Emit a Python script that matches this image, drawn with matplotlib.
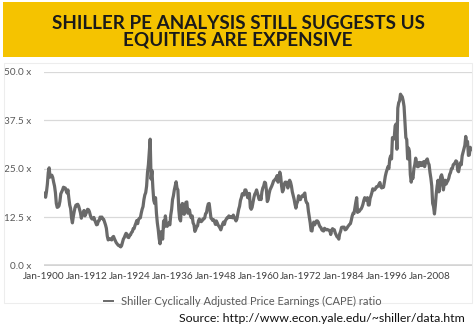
import matplotlib
matplotlib.use("Agg")
import matplotlib.pyplot as plt
from matplotlib.patches import Rectangle
import numpy as np

plt.rcParams['font.family'] = ['Lato', 'DejaVu Sans']

# Shiller CAPE, quarterly (Jan, Apr, Jul, Oct)
cape_1900s = [18.7, 18.5, 17.6, 19.0, 21.0, 24.0, 25.2, 22.8, 23.0, 23.3, 22.7, 21.5,
              20.5, 18.8, 16.0, 15.0, 15.1, 15.4, 16.5, 18.5, 19.0, 19.5, 20.2, 20.0,
              20.0, 19.3, 18.7, 19.5, 17.4, 15.6, 14.7, 12.3, 11.0, 12.6, 13.9, 15.0,
              15.6, 15.4, 15.8, 15.3]
cape_1910s = [14.5, 13.6, 12.2, 13.2, 13.6, 14.2, 12.8, 13.3, 13.8, 14.5, 14.4, 13.9,
              13.0, 12.3, 12.0, 12.0, 12.4, 11.7, 11.1, 10.5, 10.6, 11.5, 11.6, 12.5,
              12.3, 12.5, 12.0, 11.9, 11.2, 10.5, 9.6, 7.6, 6.6, 6.8, 6.9, 6.7,
              6.6, 7.3, 7.5, 6.9]
cape_1920s = [6.4, 5.9, 5.6, 5.3, 5.1, 5.2, 4.8, 5.1, 5.9, 6.8, 7.2, 7.8,
              8.3, 8.1, 7.3, 7.2, 7.8, 7.9, 8.5, 8.7, 9.5, 9.5, 10.3, 10.9,
              11.6, 10.8, 11.9, 12.2, 12.3, 13.5, 14.5, 15.2, 17.0, 18.2, 18.8, 20.5,
              24.0, 26.0, 29.5, 32.6]
cape_1930s = [22.3, 24.5, 20.0, 16.8, 16.0, 17.5, 13.5, 11.0, 9.3, 7.0, 5.6, 8.7,
              7.5, 6.8, 11.5, 10.0, 12.8, 11.0, 10.1, 10.5, 11.0, 10.5, 13.0, 14.5,
              17.0, 18.0, 19.5, 20.5, 21.6, 20.0, 19.5, 14.5, 12.0, 11.5, 15.5, 16.0,
              15.8, 13.2, 15.2, 16.3]
cape_1940s = [16.4, 13.5, 14.5, 14.3, 12.9, 12.3, 12.8, 11.0, 10.5, 8.8, 9.3, 10.0,
              10.2, 11.5, 12.0, 11.5, 11.3, 11.5, 12.0, 12.0, 12.3, 13.4, 13.6, 15.0,
              15.9, 16.0, 14.0, 12.2, 12.0, 11.6, 11.8, 11.3, 10.6, 11.5, 11.0, 10.4,
              10.1, 9.7, 9.2, 10.0]
cape_1950s = [10.7, 11.2, 10.6, 11.5, 11.9, 12.3, 12.3, 12.8, 12.5, 12.4, 12.6, 12.3,
              13.0, 12.4, 12.0, 11.5, 12.0, 13.2, 14.5, 15.3, 16.8, 17.5, 18.5, 18.6,
              18.2, 19.5, 19.5, 18.8, 17.5, 17.5, 18.6, 15.0, 14.5, 15.0, 16.2, 17.5,
              18.4, 18.8, 19.5, 18.7]
cape_1960s = [18.0, 17.0, 17.8, 17.0, 19.0, 20.0, 20.5, 21.5, 21.3, 19.5, 16.5, 17.0,
              18.5, 19.5, 20.0, 20.5, 21.1, 21.8, 22.0, 22.3, 22.6, 23.2, 21.5, 22.5,
              24.1, 23.0, 20.5, 19.0, 19.5, 21.0, 21.5, 21.5, 21.0, 20.0, 21.5, 22.0,
              21.5, 20.5, 19.0, 18.0]
cape_1970s = [17.1, 15.8, 14.8, 16.0, 16.5, 18.0, 17.5, 17.0, 17.6, 18.0, 17.8, 18.4,
              18.7, 16.8, 16.2, 16.0, 14.0, 12.5, 11.0, 9.0, 8.9, 10.5, 11.2, 10.5,
              11.0, 11.5, 11.5, 11.2, 10.5, 10.0, 9.8, 9.2, 9.0, 8.9, 9.6, 9.4,
              9.2, 9.3, 9.2, 9.1]
cape_1980s = [8.9, 8.0, 9.1, 9.5, 9.3, 9.2, 8.4, 7.9, 7.4, 7.3, 6.8, 8.2,
              8.8, 9.8, 9.9, 9.8, 9.9, 9.2, 9.3, 9.6, 10.0, 10.3, 10.6, 10.8,
              11.7, 12.8, 13.5, 13.4, 14.9, 16.3, 17.5, 13.7, 13.9, 14.0, 14.4, 14.6,
              15.1, 15.8, 16.8, 17.5]
cape_1990s = [17.0, 16.8, 17.5, 15.6, 15.6, 17.3, 18.0, 18.8, 19.8, 19.5, 19.5, 19.8,
              20.3, 20.3, 20.5, 21.0, 21.4, 20.3, 20.0, 20.3, 20.2, 21.5, 23.0, 24.0,
              24.8, 25.5, 25.0, 27.5, 28.3, 27.5, 33.0, 32.5, 32.9, 36.0, 36.5, 30.0,
              40.6, 42.0, 42.5, 44.2]
cape_2000s = [43.8, 43.5, 42.5, 41.0, 36.9, 33.0, 32.5, 27.5, 30.3, 29.5, 23.5, 21.5,
              22.9, 22.5, 25.0, 26.0, 27.7, 26.6, 25.5, 25.5, 26.6, 25.8, 26.5, 25.8,
              26.5, 26.8, 25.5, 26.5, 27.2, 27.5, 26.5, 26.0, 24.0, 22.5, 20.5, 16.0,
              15.2, 13.3, 15.5, 18.5]
cape_2010s = [20.5, 22.0, 19.0, 20.5, 22.9, 23.4, 22.5, 19.5, 21.2, 22.0, 21.0, 21.5,
              21.9, 22.5, 23.5, 24.0, 25.0, 25.0, 26.0, 26.2, 26.5, 27.0, 26.8, 24.5,
              24.2, 25.5, 26.5, 26.0, 28.3, 29.2, 30.0, 31.0, 33.3, 31.5, 32.0, 28.4,
              28.5, 30.5, 29.9]

cape = (cape_1900s + cape_1910s + cape_1920s + cape_1930s + cape_1940s + cape_1950s
        + cape_1960s + cape_1970s + cape_1980s + cape_1990s + cape_2000s + cape_2010s)
start_year = 1900
years = start_year + np.arange(len(cape)) / 4.0

tick_years = [1900, 1912, 1924, 1936, 1948, 1960, 1972, 1984, 1996, 2008]
tick_labels = [f"Jan-{y}" for y in tick_years]
y_ticks = [0.0, 12.5, 25.0, 37.5, 50.0]
y_labels = [f"{v:.1f} x" for v in y_ticks]

title = "SHILLER PE ANALYSIS STILL SUGGESTS US\nEQUITIES ARE EXPENSIVE"
series_name = "Shiller Cyclically Adjusted Price Earnings (CAPE) ratio"
source = "Source: http://www.econ.yale.edu/~shiller/data.htm"

W, H = 475, 328
fig = plt.figure(figsize=(W / 100, H / 100), dpi=100)
fig.patch.set_facecolor("white")

# banner
fig.patches.append(Rectangle((3 / W, 1 - 57 / H), 466 / W, 55 / H, transform=fig.transFigure,
                             facecolor="#F5C300", edgecolor="none", zorder=0))
fig.text(238 / W, 1 - 32 / H, title, ha="center", va="center", fontsize=13.6,
         fontweight="bold", color="#1a1a1a", linespacing=1.0)

# faint chart-area border
fig.patches.append(Rectangle((4 / W, 1 - 303 / H), 468 / W, 240 / H, transform=fig.transFigure,
                             facecolor="none", edgecolor="#ededed", linewidth=0.8, zorder=0))

ax = fig.add_axes([43.8 / W, 1 - 265.5 / H, (472 - 43.8) / W, (265.5 - 71.7) / H])
ax.set_facecolor("none")
ax.plot(years, cape, color="#6a6a6a", linewidth=2.3, solid_joinstyle="round",
        label=series_name, zorder=3)
ax.set_xlim(1900, 2019.75)
ax.set_ylim(0, 50)
ax.set_yticks(y_ticks)
ax.set_yticklabels(y_labels)
ax.set_xticks(tick_years)
ax.set_xticklabels(tick_labels)
for s in ax.spines.values():
    s.set_visible(False)
ax.tick_params(axis="both", length=0, labelsize=7.2, colors="#595959")
ax.tick_params(axis="x", pad=5, labelcolor="#404040")
ax.tick_params(axis="y", pad=9)
for yv in y_ticks[1:]:
    ax.axhline(yv, color="#d9d9d9", linewidth=0.9, zorder=1)
ax.axhline(0, color="#d4d4d4", linewidth=2.6, zorder=1)

leg = fig.legend(handles=ax.get_lines(), labels=[series_name], loc="center",
                 bbox_to_anchor=(243 / W, 1 - 301 / H), frameon=False, fontsize=8.0,
                 handlelength=0.8, handletextpad=0.7, labelcolor="#595959")
for line in leg.get_lines():
    line.set_linewidth(1.4)

fig.text(465 / W, 1 - 318 / H, source, ha="right", va="center", fontsize=8.9,
         color="#111111")

fig.savefig("out.png", dpi=100)
